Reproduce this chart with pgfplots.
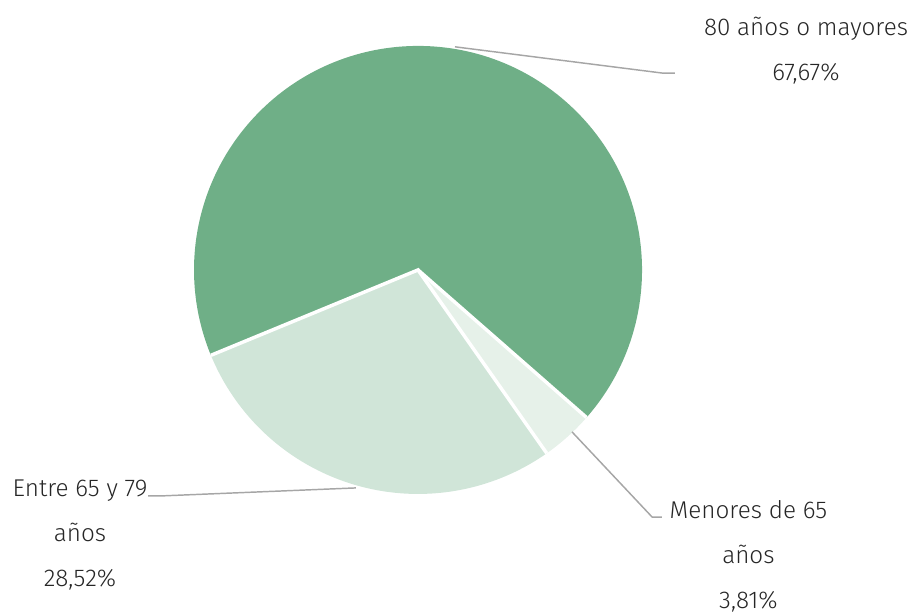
\documentclass[border=0pt]{standalone}
\usepackage{pgfplots}
\pgfplotsset{compat=1.18}
\usepackage{fontspec}
\setmainfont{Fira Sans}[UprightFont=* Light]
\definecolor{darkg}{HTML}{6FAF87}
\definecolor{midg}{HTML}{D0E5D8}
\definecolor{lightg}{HTML}{E6F1E9}
\definecolor{leader}{HTML}{A6A6A6}

% shares in percent
\def\pEntre{28.52}
\def\pMenores{3.81}
\def\pMayores{67.67}
\def\startang{202.4}

\begin{document}
\begin{tikzpicture}
\pgfmathsetmacro\aA{\startang}
\pgfmathsetmacro\aB{\aA+3.6*\pEntre}
\pgfmathsetmacro\aC{\aB+3.6*\pMenores}
\pgfmathsetmacro\aD{\aC+3.6*\pMayores}
\begin{axis}[
    hide axis,
    x=168pt, y=168pt,
    xmin=-1.866, xmax=2.214,
    ymin=-1.536, ymax=1.205,
    clip=false,
  ]
  \coordinate (bl) at (axis cs:-1.866,-1.536);
  \coordinate (tr) at (axis cs:2.214,1.205);
  % slices
  \fill[midg] (axis cs:0,0) -- (axis cs:{cos(\aA)},{sin(\aA)}) arc[start angle=\aA, end angle=\aB, radius=168pt] -- cycle;
  \fill[lightg] (axis cs:0,0) -- (axis cs:{cos(\aB)},{sin(\aB)}) arc[start angle=\aB, end angle=\aC, radius=168pt] -- cycle;
  \fill[darkg] (axis cs:0,0) -- (axis cs:{cos(\aC)},{sin(\aC)}) arc[start angle=\aC, end angle=\aD, radius=168pt] -- cycle;
  % white separators
  \draw[white, line width=2.6pt] (axis cs:{cos(\aA)},{sin(\aA)}) -- (axis cs:0,0) -- (axis cs:{cos(\aB)},{sin(\aB)});
  \draw[white, line width=2.6pt] (axis cs:0,0) -- (axis cs:{cos(\aC)},{sin(\aC)});
  % leader lines
  \draw[leader, line width=1.1pt] (axis cs:0.165,0.996) -- (axis cs:1.089,0.879) -- (axis cs:1.147,0.879);
  \draw[leader, line width=1.1pt] (axis cs:-0.277,-0.973) -- (axis cs:-1.152,-1.009) -- (axis cs:-1.205,-1.009);
  \draw[leader, line width=1.1pt] (axis cs:0.6875,-0.723) -- (axis cs:1.045,-1.103) -- (axis cs:1.089,-1.103);
  % labels
  \node[align=center, font=\fontsize{18.2}{33.75}\selectfont, text=black!85] at (axis cs:1.732,0.978) {80 años o mayores\\67,67\%};
  \node[align=center, font=\fontsize{18.2}{33.75}\selectfont, text=black!85] at (axis cs:-1.509,-1.183) {Entre 65 y 79\\años\\28,52\%};
  \node[align=center, font=\fontsize{18.2}{33.75}\selectfont, text=black!85] at (axis cs:1.475,-1.277) {Menores de 65\\años\\3,81\%};
\end{axis}
\pgfresetboundingbox
\useasboundingbox (bl) rectangle (tr);
\end{tikzpicture}
\end{document}
